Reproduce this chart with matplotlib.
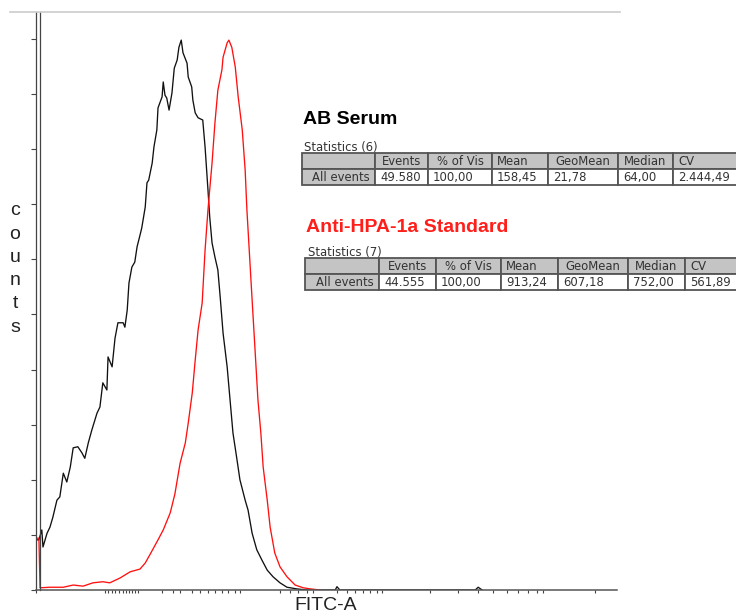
import matplotlib
matplotlib.use('Agg')
import matplotlib.pyplot as plt
from matplotlib.patches import Rectangle
from matplotlib.lines import Line2D
from matplotlib.transforms import offset_copy

# FITC-A channel (0-1000 display scale) and counts (arbitrary units)
serum_x = [0, 5, 10, 12, 19, 24, 29, 36, 41, 47, 53, 59, 64, 72, 79, 84, 90, 96, 105, 110,
           115, 122, 124, 131, 136, 141, 150, 153, 157, 160, 165, 170, 174, 179, 182, 188, 191, 194, 200, 203,
           208, 210, 217, 219, 222, 225, 229, 234, 238, 243, 246, 250, 253, 260, 262, 268, 270, 274, 279, 287,
           291, 296, 299, 303, 308, 313, 317, 322, 329, 334, 339, 346, 351, 360, 365, 372, 380, 389, 398, 408,
           420, 432, 449, 466, 489, 515, 518, 523, 756, 761, 768]
serum_y = [9.1, 9.1, 10.9, 7.8, 10.3, 11.4, 13.2, 16.3, 16.9, 21.2, 19.6, 22.3, 25.8, 26.0, 24.9, 23.9, 26.7, 29.0, 32.1, 33.2,
           37.6, 36.3, 42.3, 40.5, 45.7, 48.5, 48.5, 47.7, 50.8, 55.7, 58.6, 59.5, 62.3, 64.4, 65.7, 69.5, 73.9, 74.4, 77.5, 80.4,
           83.5, 87.5, 89.5, 92.2, 89.8, 89.3, 87.1, 90.2, 94.7, 96.2, 98.5, 99.8, 97.5, 95.6, 93.1, 91.3, 88.9, 86.6, 85.7, 85.3,
           80.4, 72.6, 67.7, 63.0, 60.4, 58.1, 53.2, 46.6, 40.5, 34.5, 28.5, 23.6, 20.0, 16.3, 14.5, 10.3, 7.3, 5.4, 3.6, 2.4,
           1.3, 0.5, 0.2, 0, 0, 0, 0.6, 0, 0, 0.5, 0]

standard_x = [0, 5, 7, 24, 47, 64, 81, 98, 115, 127, 145, 162, 179, 188, 196, 210, 219, 231, 239, 248,
              257, 262, 269, 274, 279, 286, 291, 296, 303, 308, 313, 320, 322, 329, 332, 337, 343, 348, 355, 360,
              363, 367, 372, 377, 382, 387, 391, 398, 403, 411, 420, 432, 446, 460, 472, 489]
standard_y = [9.4, 9.4, 0.4, 0.5, 0.5, 0.9, 0.7, 1.3, 1.5, 1.3, 2.2, 3.3, 3.8, 4.9, 6.4, 9.1, 10.9, 14.0, 17.4, 23.0,
              26.7, 30.3, 35.8, 41.7, 47.2, 52.1, 61.7, 69.0, 77.5, 84.8, 90.7, 94.4, 96.7, 99.3, 99.8, 98.5, 94.9, 89.5, 83.5, 76.2,
              69.0, 61.7, 52.6, 43.6, 34.5, 28.5, 22.3, 16.3, 11.4, 6.7, 4.2, 2.4, 0.9, 0.4, 0.2, 0]

x_ticks = [0, 119, 124, 131, 136, 143, 150, 155, 160, 165, 170, 176, 217, 236, 248, 268, 282, 296, 308, 320,
           330, 342, 351, 420, 437, 451, 466, 477, 518, 535, 549, 563, 575, 587, 595, 678, 726, 761, 787, 811,
           830, 847, 862, 873, 962]
y_ticks = list(range(0, 101, 10))

stat_header = ['', 'Events', '% of Vis', 'Mean', 'GeoMean', 'Median', 'CV']
serum_stats = ['All events', '49.580', '100,00', '158,45', '21,78', '64,00', '2.444,49']
standard_stats = ['All events', '44.555', '100,00', '913,24', '607,18', '752,00', '561,89']

W, H = 736, 615
RED = '#ff1f1a'

fig = plt.figure(figsize=(W / 100, H / 100), dpi=100)


def fx(px):
    return px / W


def fy(py):
    return 1 - py / H


ax = fig.add_axes([fx(36), fy(590), 581 / W, 578 / H])
ax.plot(serum_x, serum_y, color='#111111', lw=0.95)
ax.plot(standard_x, standard_y, color='#ff1010', lw=0.95)
ax.set_xlim(0, 1000)
ax.set_ylim(0, 104.9)

for s in ['top', 'right']:
    ax.spines[s].set_visible(False)
ax.spines['left'].set_color('#444444')
ax.spines['left'].set_linewidth(0.9)
ax.spines['bottom'].set_color('#555555')
ax.spines['bottom'].set_linewidth(1.1)

# double line of the count axis
second = ax.axvline(0, color='#444444', lw=0.9, clip_on=False)
second.set_transform(offset_copy(second.get_transform(), fig=fig, x=3.5, y=0, units='dots'))

ax.set_xticks(x_ticks)
ax.set_xticklabels([])
ax.set_yticks(y_ticks)
ax.set_yticklabels([])
ax.tick_params(axis='x', direction='out', length=2.4, width=0.8, color='#444444')
ax.tick_params(axis='y', direction='out', length=3.8, width=0.8, color='#444444')

# faint frame line at the top
fig.add_artist(Line2D([fx(10), fx(620)], [fy(12), fy(12)], color='#cccccc', lw=1.2))

# axis titles
fig.text(fx(326), fy(606), 'FITC-A', ha='center', va='center', fontsize=14,
         family='Liberation Sans', color='#222222')
for i, ch in enumerate('counts'):
    fig.text(fx(15), fy(211 + i * 23.2), ch, ha='center', va='center', fontsize=14,
             family='Liberation Sans', color='#222222')


def draw_table(edges, top, header, row, row_h=16):
    header_align = ['center', 'center', 'center', 'left', 'center', 'center', 'left']
    for r, cells in enumerate([header, row]):
        y0 = top + r * row_h
        for i, text in enumerate(cells):
            x0, x1 = edges[i], edges[i + 1]
            fill = '#c4c4c4' if (r == 0 or i == 0) else 'white'
            fig.add_artist(Rectangle((fx(x0), fy(y0 + row_h)), (x1 - x0) / W, row_h / H,
                                     transform=fig.transFigure, facecolor=fill,
                                     edgecolor='#555555', lw=1.3))
            if r == 0:
                align = header_align[i]
            else:
                align = 'right' if i == 0 else 'left'
            if align == 'center':
                tx = (x0 + x1) / 2
            elif align == 'left':
                tx = x0 + 5
            else:
                tx = x1 - 5
            fig.text(fx(tx), fy(y0 + row_h / 2 + 0.5), text, ha=align, va='center',
                     fontsize=8.4, color='#333333', family='DejaVu Sans')


fig.text(fx(303), fy(120), 'AB Serum', ha='left', va='center', fontsize=14,
         fontweight='bold', family='Liberation Sans', color='black')
fig.text(fx(304), fy(154), 'Statistics (6)', ha='left', va='bottom', fontsize=8.4,
         color='#333333', family='DejaVu Sans')
draw_table([302, 375, 428, 492, 548, 618, 673, 760], 153, stat_header, serum_stats)

fig.text(fx(306), fy(228), 'Anti-HPA-1a Standard', ha='left', va='center', fontsize=14,
         fontweight='bold', family='Liberation Sans', color=RED)
fig.text(fx(308), fy(259), 'Statistics (7)', ha='left', va='bottom', fontsize=8.4,
         color='#333333', family='DejaVu Sans')
draw_table([305, 379, 436, 501, 558, 628, 685, 770], 258, stat_header, standard_stats)

fig.savefig('out.png', dpi=100)
